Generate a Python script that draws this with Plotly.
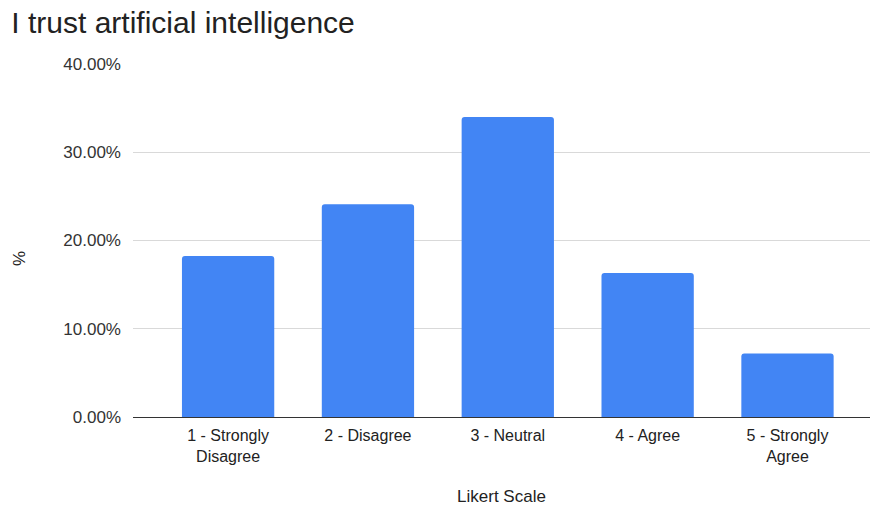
import plotly.graph_objects as go

# Datos (porcentaje de respuestas por nivel Likert)
categorias = ["1 - Strongly<br>Disagree", "2 - Disagree", "3 - Neutral", "4 - Agree", "5 - Strongly<br>Agree"]
porcentajes = [18.25, 24.1, 34.0, 16.33, 7.19]
ticks_y = [0, 10, 20, 30, 40]
etiquetas_y = ["0.00%", "10.00%", "20.00%", "30.00%", "40.00%"]

FUENTE = "Liberation Sans, Arial, sans-serif"

fig = go.Figure(
    go.Bar(
        x=list(range(len(categorias))),
        y=porcentajes,
        width=0.66,
        marker=dict(color="#4285F4", cornerradius=3, line=dict(width=0)),
        hovertemplate="%{y:.2f}%<extra></extra>",
    )
)

fig.update_layout(
    width=872,
    height=507,
    paper_bgcolor="white",
    plot_bgcolor="white",
    margin=dict(t=64, l=133, r=2, b=90),
    showlegend=False,
    font=dict(family=FUENTE, color="#444444", size=17),
    title=dict(
        text="I trust artificial intelligence",
        x=0.013,
        xanchor="left",
        y=0.955,
        yanchor="middle",
        font=dict(size=30, color="#222222", family=FUENTE),
    ),
)

fig.update_xaxes(
    range=[-0.68, 4.59],
    tickvals=list(range(len(categorias))),
    ticktext=categorias,
    showgrid=False,
    showline=True,
    linecolor="#333333",
    linewidth=1,
    ticks="",
    ticklabelstandoff=4,
    tickfont=dict(size=16, color="#222222"),
    title=dict(text="Likert Scale", font=dict(size=17, color="#222222"), standoff=26),
    automargin=False,
)

fig.update_yaxes(
    range=[0, 40],
    tickvals=ticks_y,
    ticktext=etiquetas_y,
    showgrid=True,
    gridcolor="#d9d9d9",
    gridwidth=1,
    zeroline=False,
    ticks="",
    ticklabelstandoff=11,
    tickfont=dict(size=17, color="#333333"),
    automargin=False,
)

# título del eje Y: en el original queda algo por debajo del centro
fig.add_annotation(
    text="%",
    textangle=-90,
    xref="paper",
    yref="paper",
    x=-0.153,
    y=0.448,
    xanchor="center",
    yanchor="middle",
    showarrow=False,
    font=dict(size=17, color="#222222"),
)

# quitar el margen por defecto del body para que la figura ocupe toda la ventana
fig.write_html(
    "out.html",
    config={"displayModeBar": False},
    post_script="document.body.style.margin='0';",
)
